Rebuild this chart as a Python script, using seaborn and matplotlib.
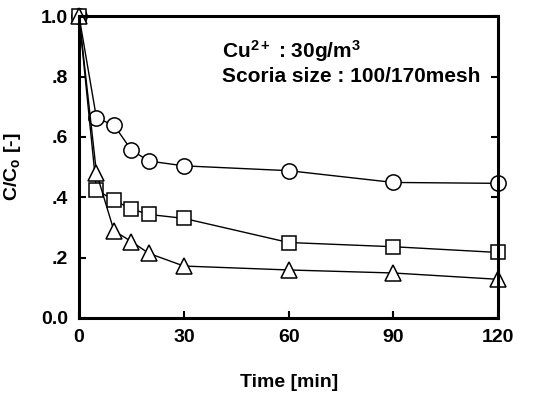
import matplotlib
matplotlib.use("Agg")
import matplotlib.pyplot as plt
import seaborn as sns
import pandas as pd

time_min = [0, 5, 10, 15, 20, 30, 60, 90, 120]
circle_vals = [1.0, 0.662, 0.639, 0.556, 0.52, 0.504, 0.488, 0.449, 0.446]
square_vals = [1.0, 0.424, 0.39, 0.361, 0.343, 0.330, 0.25, 0.236, 0.217]
triangle_vals = [1.0, 0.48, 0.289, 0.253, 0.214, 0.172, 0.159, 0.149, 0.128]
series_names = ["circle", "square", "triangle"]
x_ticks = [0, 30, 60, 90, 120]
y_ticks = [0.0, 0.2, 0.4, 0.6, 0.8, 1.0]
y_tick_labels = ["0.0", ".2", ".4", ".6", ".8", "1.0"]

sns.set_style("ticks")
plt.rcParams['font.family'] = ['Liberation Sans', 'DejaVu Sans']
plt.rcParams['font.weight'] = 'bold'
plt.rcParams['text.color'] = 'black'
plt.rcParams['axes.labelcolor'] = 'black'
plt.rcParams['xtick.color'] = 'black'
plt.rcParams['ytick.color'] = 'black'
plt.rcParams['axes.edgecolor'] = 'black'
plt.rcParams['mathtext.fontset'] = 'custom'
plt.rcParams['mathtext.rm'] = 'Liberation Sans:bold'
plt.rcParams['mathtext.it'] = 'Liberation Sans:bold'
plt.rcParams['mathtext.bf'] = 'Liberation Sans:bold'
plt.rcParams['mathtext.default'] = 'rm'

rows = []
for name, vals in zip(series_names, [circle_vals, square_vals, triangle_vals]):
    for t, v in zip(time_min, vals):
        rows.append({"time": t, "value": v, "series": name})
df = pd.DataFrame(rows)

fig = plt.figure(figsize=(5.34, 3.94), dpi=100)
ax = fig.add_axes([0.148, 0.193, 0.785, 0.766])

sns.lineplot(data=df, x="time", y="value", hue="series", style="series",
             palette={"circle": "black", "square": "black", "triangle": "black"},
             markers={"circle": "o", "square": "s", "triangle": "^"},
             dashes=False, legend=False, ax=ax, linewidth=1.0, markersize=10)

sizes = [11, 10, 11]
for line, ms in zip(ax.lines, sizes):
    line.set_markerfacecolor("white")
    line.set_markeredgecolor("black")
    line.set_markeredgewidth(1.1)
    line.set_markersize(ms)
    line.set_clip_on(False)

fs = 14
ax.set_xlim(0, 120)
ax.set_ylim(0, 1.0)
ax.set_xticks(x_ticks)
ax.set_xticklabels([str(v) for v in x_ticks])
ax.set_yticks(y_ticks)
ax.set_yticklabels(y_tick_labels)
ax.tick_params(direction="in", length=5, width=1.5, labelsize=fs, pad=8,
               right=True, top=False)
for lab in ax.get_xticklabels() + ax.get_yticklabels():
    lab.set_fontweight("bold")
for s in ax.spines.values():
    s.set_visible(True)
    s.set_linewidth(2.2)

ax.set_xlabel("Time [min]", fontsize=fs, fontweight="bold", labelpad=20)
ax.set_ylabel(r"C/C$_\mathregular{o}$ [-]", fontsize=fs, fontweight="bold", labelpad=13)

ax.text(0.342, 0.861, r"Cu$^{\mathregular{2+}}$ : 30g/m$^{\mathregular{3}}$", transform=ax.transAxes,
        fontsize=15, fontweight="bold", va="baseline")
ax.text(0.342, 0.781, "Scoria size : 100/170mesh", transform=ax.transAxes,
        fontsize=15, fontweight="bold", va="baseline")

fig.savefig("out.png", dpi=100)
